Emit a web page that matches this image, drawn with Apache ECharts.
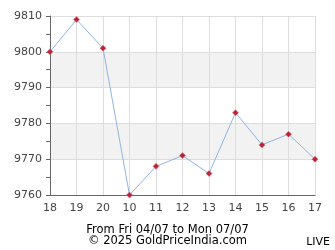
<!DOCTYPE html>
<html>
<head>
<meta charset="utf-8">
<script src="https://cdn.jsdelivr.net/npm/echarts@6/dist/echarts.min.js"></script>
<style>
    html, body { margin: 0; padding: 0; background: #fff; }
    #chart { width: 335px; height: 250px; }
</style>
</head>
<body>
<div id="chart"></div>
<script>
// 日期（天）
var days = ['18', '19', '20', '10', '11', '12', '13', '14', '15', '16', '17'];
// 价格
var prices = [9800, 9809, 9801, 9760, 9768, 9771, 9766, 9783, 9774, 9777, 9770];
// y轴范围
var yMin = 9760, yMax = 9810, yStep = 10;

var chart = echarts.init(document.getElementById('chart'));
var font = 'DejaVu Sans';

chart.setOption({
    animation: false,
    grid: { left: 50, right: 20, top: 16, bottom: 55 },
    xAxis: {
        type: 'category',
        data: days,
        boundaryGap: false,
        axisLine: { lineStyle: { color: '#666', width: 1 } },
        axisTick: { show: false },
        axisLabel: { color: '#444', fontSize: 11, fontFamily: font, margin: 8 },
        splitLine: { show: true, lineStyle: { color: '#ddd', width: 1 } }
    },
    yAxis: {
        type: 'value',
        min: yMin,
        max: yMax,
        interval: yStep,
        axisLine: { show: true, lineStyle: { color: '#666', width: 1 } },
        axisTick: { show: true, length: 4, lineStyle: { color: '#666' } },
        minorTick: { show: true, splitNumber: 2, length: 4, lineStyle: { color: '#666' } },
        axisLabel: {
            color: '#444', fontSize: 11, fontFamily: font, margin: 8,
            formatter: function (v) { return String(v); }
        },
        splitLine: { show: true, lineStyle: { color: '#ddd', width: 1 } },
        splitArea: { show: true, areaStyle: { color: ['#ffffff', '#f2f2f2'] } }
    },
    series: [{
        type: 'line',
        data: prices,
        symbol: 'diamond',
        symbolSize: 6,
        showAllSymbol: true,
        lineStyle: { color: '#8fb4e0', width: 1 },
        itemStyle: { color: '#b8243c', borderColor: '#d66', borderWidth: 0.5 }
    }],
    graphic: [
        {
            type: 'text', left: 'center', top: 224,
            style: { text: 'From Fri 04/07 to Mon 07/07', font: '11.5px DejaVu Sans', fill: '#000' }
        },
        {
            type: 'text', left: 'center', top: 235,
            style: { text: '© 2025 GoldPriceIndia.com', font: '11.5px DejaVu Sans', fill: '#000' }
        },
        {
            type: 'text', right: 5, top: 237,
            style: { text: 'LIVE', font: '11px DejaVu Sans', fill: '#000' }
        }
    ]
});
</script>
</body>
</html>
